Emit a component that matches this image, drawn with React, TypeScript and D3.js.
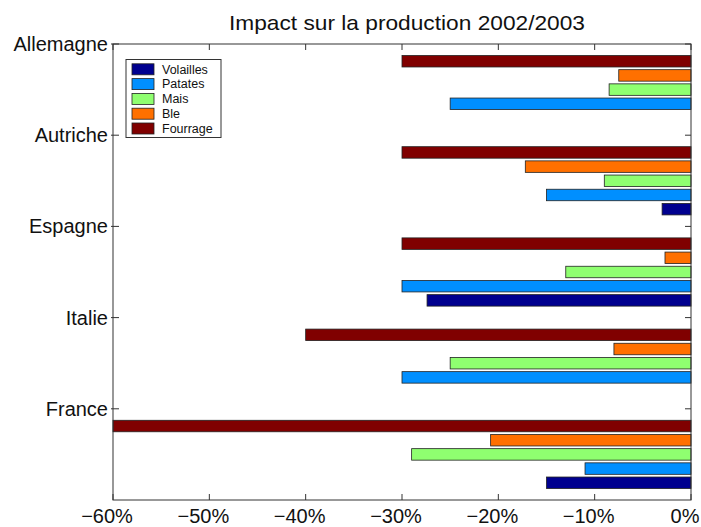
import React from 'react';
import * as d3 from 'd3';

const categories = ['Allemagne', 'Autriche', 'Espagne', 'Italie', 'France'];
const legendOrder = ['Volailles', 'Patates', 'Mais', 'Ble', 'Fourrage'];
const barOrder = ['Fourrage', 'Ble', 'Mais', 'Patates', 'Volailles'];
const volailles = [0, -3, -27.4, 0, -15];
const patates = [-25, -15, -30, -30, -11];
const mais = [-8.5, -9, -13, -25, -29];
const ble = [-7.5, -17.2, -2.7, -8, -20.8];
const fourrage = [-30, -30, -30, -40, -60];
const xTicks = [-60, -50, -40, -30, -20, -10, 0];

const seriesValues: Record<string, number[]> = {
  Volailles: volailles,
  Patates: patates,
  Mais: mais,
  Ble: ble,
  Fourrage: fourrage,
};
const colors: Record<string, string> = {
  Volailles: '#00008f',
  Patates: '#008fff',
  Mais: '#8fff70',
  Ble: '#ff7000',
  Fourrage: '#800000',
};

const W = 701;
const H = 527;
const left = 113;
const right = 691;
const top = 44;
const bottom = 500;
const font = '"Liberation Sans", Arial, Helvetica, sans-serif';

export default function App() {
  const x = d3.scaleLinear().domain([-60, 0]).range([left, right]);
  const y = d3.scaleBand().domain(categories).range([top, bottom]).paddingInner(0).paddingOuter(0);
  const inner = d3
    .scaleBand()
    .domain(barOrder)
    .range([0, y.bandwidth()])
    .paddingInner(0.19)
    .paddingOuter(0.81);
  const axisColor = '#333';
  const tickLen = 6;

  return (
    <svg width={W} height={H} style={{ position: 'absolute', left: 0, top: 0, background: '#fff' }}>
      <rect x={0} y={0} width={W} height={H} fill="#fff" />
      <text
        x={229}
        y={30}
        fontFamily={font}
        fontSize={21}
        fill="#111"
        textLength={356}
        lengthAdjust="spacingAndGlyphs"
      >
        Impact sur la production 2002/2003
      </text>
      {/* bars */}
      {categories.map((c, i) =>
        barOrder.map((s) => {
          const v = seriesValues[s][i];
          if (v === 0) return null;
          const y0 = (y(c) as number) + (inner(s) as number);
          return (
            <rect
              key={c + s}
              x={x(v)}
              y={y0}
              width={x(0) - x(v)}
              height={inner.bandwidth()}
              fill={colors[s]}
              stroke="#222"
              strokeWidth={0.8}
            />
          );
        })
      )}
      {/* axes box */}
      <rect x={left} y={top} width={right - left} height={bottom - top} fill="none" stroke={axisColor} strokeWidth={1} />
      {xTicks.map((t) => (
        <g key={t}>
          <line x1={x(t)} x2={x(t)} y1={bottom} y2={bottom - tickLen} stroke={axisColor} />
          <line x1={x(t)} x2={x(t)} y1={top} y2={top + tickLen} stroke={axisColor} />
          <text x={x(t) - 6} y={523} textAnchor="middle" fontFamily={font} fontSize={20} fill="#111">
            {t < 0 ? '\u2212' + Math.abs(t) + '%' : t + '%'}
          </text>
        </g>
      ))}
      {categories.map((c) => {
        const yy = y(c) as number;
        return (
          <g key={c}>
            <line x1={left - 2} x2={left + tickLen} y1={yy} y2={yy} stroke={axisColor} />
            <line x1={right} x2={right - tickLen} y1={yy} y2={yy} stroke={axisColor} />
            <text x={108} y={yy + 7} textAnchor="end" fontFamily={font} fontSize={20} fill="#111">
              {c}
            </text>
          </g>
        );
      })}
      {/* legend */}
      <rect x={126} y={59.5} width={95} height={78} fill="#fff" stroke={axisColor} strokeWidth={1} />
      {legendOrder.map((s, i) => {
        const cy = 69.3 + i * 14.8;
        return (
          <g key={s}>
            <rect x={132} y={cy - 5.5} width={22} height={11} fill={colors[s]} stroke="#222" strokeWidth={0.8} />
            <text x={162} y={cy + 4.3} fontFamily={font} fontSize={12.5} fill="#111">
              {s}
            </text>
          </g>
        );
      })}
    </svg>
  );
}
